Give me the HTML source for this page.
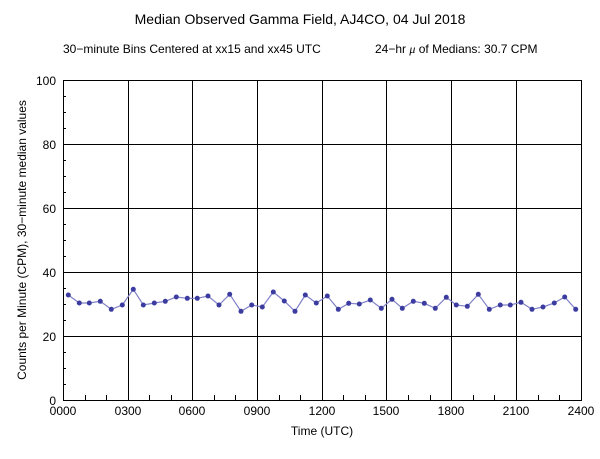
<!DOCTYPE html>
<html><head><style>body{margin:0;background:#fff}svg{display:block}text{font-family:"Liberation Sans",sans-serif;fill:#000}</style></head>
<body>
<svg width="600" height="459" viewBox="0 0 600 459" xmlns="http://www.w3.org/2000/svg">
<rect width="600" height="459" fill="#fff"/>
<text x="300" y="24" font-size="14" text-anchor="middle">Median Observed Gamma Field, AJ4CO, 04 Jul 2018</text>
<text x="63" y="53" font-size="12">30−minute Bins Centered at xx15 and xx45 UTC</text>
<text x="375" y="53" font-size="12">24−hr <tspan font-style="italic" font-family="Liberation Serif">μ</tspan> of Medians: 30.7 CPM</text>
<g stroke="#000" stroke-width="1">
<rect x="63.5" y="80.5" width="518" height="320" fill="none"/>
<path d="M63 144.5H581M63 208.5H581M63 272.5H581M63 336.5H581"/>
<path d="M128.5 80V400M192.5 80V400M257.5 80V400M322.5 80V400M386.5 80V400M451.5 80V400M516.5 80V400"/>
<path d="M63 96.5H66M63 112.5H66M63 128.5H66M63 160.5H66M63 176.5H66M63 192.5H66M63 224.5H66M63 240.5H66M63 256.5H66M63 288.5H66M63 304.5H66M63 320.5H66M63 352.5H66M63 368.5H66M63 384.5H66"/>
<path d="M85.5 400V395M106.5 400V395M149.5 400V395M171.5 400V395M214.5 400V395M235.5 400V395M279.5 400V395M300.5 400V395M343.5 400V395M365.5 400V395M408.5 400V395M430.5 400V395M473.5 400V395M494.5 400V395M538.5 400V395M559.5 400V395"/>
</g>
<g font-size="12" text-anchor="end">
<text x="56" y="85">100</text><text x="56" y="149">80</text><text x="56" y="213">60</text><text x="56" y="277">40</text><text x="56" y="341">20</text><text x="56" y="405">0</text>
</g>
<g font-size="12" text-anchor="middle">
<text x="63" y="415">0000</text><text x="128" y="415">0300</text><text x="192" y="415">0600</text><text x="257" y="415">0900</text><text x="322" y="415">1200</text><text x="386" y="415">1500</text><text x="451" y="415">1800</text><text x="516" y="415">2100</text><text x="581" y="415">2400</text>
<text x="322" y="435">Time (UTC)</text>
</g>
<text transform="translate(26,240) rotate(-90)" font-size="12" text-anchor="middle">Counts per Minute (CPM), 30−minute median values</text>
<polyline fill="none" stroke="#8080c8" stroke-width="1.2" points="68.3,295 79.3,303 89.3,303 100.3,301.3 111.3,309.3 122.3,305 133.3,289.3 143.3,305 154.3,303 165.3,301.3 176.3,297 187.3,298.3 197.3,298.3 208,296 219,305 229.7,294.3 241,311.3 251.7,305 262.3,307 273.3,292 284.3,301 295,311.3 305.3,295 316.3,303 327.3,296 338.3,309.3 348.7,303.3 359.3,304 370.3,300 381.3,308.3 392,299.3 402.3,308.3 413.3,301.3 424.3,303.3 435.3,308.3 446.3,297.3 456.3,305 467.3,306.3 478.3,294.3 489.3,309.3 500.3,305 510.3,305 521,302.3 532,309.3 543,307 554.3,303 564.7,297 575.7,309.3"/>
<g fill="#3c3ca0">
<circle cx="68.3" cy="295" r="2.5"/><circle cx="79.3" cy="303" r="2.5"/><circle cx="89.3" cy="303" r="2.5"/><circle cx="100.3" cy="301.3" r="2.5"/><circle cx="111.3" cy="309.3" r="2.5"/><circle cx="122.3" cy="305" r="2.5"/><circle cx="133.3" cy="289.3" r="2.5"/><circle cx="143.3" cy="305" r="2.5"/><circle cx="154.3" cy="303" r="2.5"/><circle cx="165.3" cy="301.3" r="2.5"/><circle cx="176.3" cy="297" r="2.5"/><circle cx="187.3" cy="298.3" r="2.5"/><circle cx="197.3" cy="298.3" r="2.5"/><circle cx="208" cy="296" r="2.5"/><circle cx="219" cy="305" r="2.5"/><circle cx="229.7" cy="294.3" r="2.5"/><circle cx="241" cy="311.3" r="2.5"/><circle cx="251.7" cy="305" r="2.5"/><circle cx="262.3" cy="307" r="2.5"/><circle cx="273.3" cy="292" r="2.5"/><circle cx="284.3" cy="301" r="2.5"/><circle cx="295" cy="311.3" r="2.5"/><circle cx="305.3" cy="295" r="2.5"/><circle cx="316.3" cy="303" r="2.5"/><circle cx="327.3" cy="296" r="2.5"/><circle cx="338.3" cy="309.3" r="2.5"/><circle cx="348.7" cy="303.3" r="2.5"/><circle cx="359.3" cy="304" r="2.5"/><circle cx="370.3" cy="300" r="2.5"/><circle cx="381.3" cy="308.3" r="2.5"/><circle cx="392" cy="299.3" r="2.5"/><circle cx="402.3" cy="308.3" r="2.5"/><circle cx="413.3" cy="301.3" r="2.5"/><circle cx="424.3" cy="303.3" r="2.5"/><circle cx="435.3" cy="308.3" r="2.5"/><circle cx="446.3" cy="297.3" r="2.5"/><circle cx="456.3" cy="305" r="2.5"/><circle cx="467.3" cy="306.3" r="2.5"/><circle cx="478.3" cy="294.3" r="2.5"/><circle cx="489.3" cy="309.3" r="2.5"/><circle cx="500.3" cy="305" r="2.5"/><circle cx="510.3" cy="305" r="2.5"/><circle cx="521" cy="302.3" r="2.5"/><circle cx="532" cy="309.3" r="2.5"/><circle cx="543" cy="307" r="2.5"/><circle cx="554.3" cy="303" r="2.5"/><circle cx="564.7" cy="297" r="2.5"/><circle cx="575.7" cy="309.3" r="2.5"/>
</g>
</svg>
</body></html>
